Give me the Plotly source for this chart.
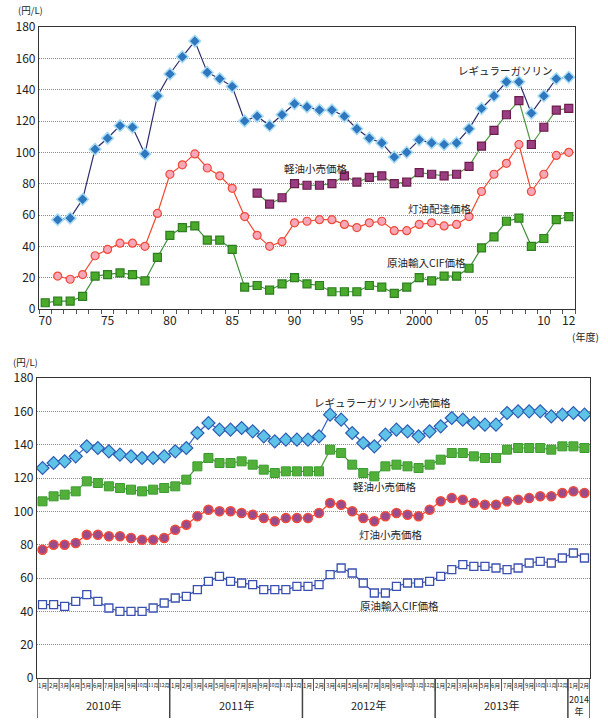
import plotly.graph_objects as go

# ---------------- data: annual (fiscal year) ----------------
years = list(range(1970, 2013))
gasoline_annual = [None, 57, 58, 70, 102, 109, 117, 116, 99, 136, 150, 161, 171, 151, 147, 142,
                   120, 123, 117, 124, 131, 129, 127, 127, 123, 115, 109, 106, 97, 100, 108,
                   106, 105, 106, 115, 128, 136, 145, 145, 125, 136, 147, 148]
diesel_annual = [None] * 17 + [74, 67, 71, 80, 79, 79, 80, 85, 81, 84, 85, 80, 81, 87,
                               86, 85, 86, 91, 104, 114, 124, 133, 105, 116, 127, 128]
kerosene_annual = [None, 21, 19, 22, 34, 38, 42, 42, 40, 61, 86, 92, 99, 90, 85, 77,
                   59, 47, 40, 43, 55, 56, 57, 57, 54, 52, 55, 56, 50, 50, 54,
                   55, 53, 54, 59, 75, 86, 93, 105, 75, 86, 98, 100]
crude_annual = [4, 5, 5, 8, 21, 22, 23, 22, 18, 33, 47, 52, 53, 44, 44, 38,
                14, 15, 12, 16, 20, 16, 15, 11, 11, 11, 15, 14, 10, 14, 20,
                18, 21, 21, 26, 39, 46, 56, 58, 40, 45, 57, 59]
annual_tickvals = [1970, 1975, 1980, 1985, 1990, 1995, 2000, 2005, 2010, 2012]
annual_ticktext = ["70", "75", "80", "85", "90", "95", "2000", "05", "10", "12"]

# ---------------- data: monthly (2010/1 - 2014/2) ----------------
month_labels = [f"{m}月" for m in range(1, 13)] * 4 + ["1月", "2月"]
month_idx = list(range(len(month_labels)))
gasoline_monthly = [126, 129, 130, 133, 139, 138, 136, 134, 133, 132, 132, 133,
                    136, 138, 147, 153, 149, 149, 150, 148, 145, 142, 143, 143,
                    143, 145, 158, 155, 147, 141, 139, 146, 149, 148, 145, 148,
                    151, 156, 155, 153, 152, 152, 159, 160, 160, 160, 157, 158,
                    159, 158]
diesel_monthly = [106, 109, 110, 112, 118, 117, 115, 114, 113, 112, 113, 114,
                  115, 119, 127, 132, 129, 129, 130, 128, 125, 123, 124, 124,
                  124, 124, 137, 135, 128, 123, 121, 127, 128, 127, 126, 128,
                  131, 135, 135, 133, 132, 132, 137, 138, 138, 138, 137, 139,
                  139, 138]
kerosene_monthly = [77, 80, 80, 81, 86, 86, 85, 85, 84, 83, 83, 84,
                    89, 92, 97, 101, 100, 100, 99, 98, 96, 94, 96, 96,
                    96, 99, 105, 104, 100, 96, 94, 97, 99, 98, 97, 101,
                    106, 108, 107, 105, 104, 104, 106, 107, 108, 109, 109, 111,
                    112, 111]
crude_monthly = [44, 44, 43, 46, 50, 46, 42, 40, 40, 40, 42, 45,
                 48, 49, 53, 58, 61, 58, 57, 56, 53, 53, 53, 55,
                 55, 56, 62, 66, 63, 57, 51, 51, 55, 57, 57, 58,
                 61, 65, 68, 67, 67, 66, 65, 66, 69, 70, 69, 72,
                 75, 72]
year_labels = ["2010年", "2011年", "2012年", "2013年", "2014<br>年"]
year_starts = [0, 12, 24, 36, 48]
year_ends = [11, 23, 35, 47, 49]

FONT = "Noto Sans CJK JP"
W, H = 608, 728

def px_x(p):
    return p / W

def px_y(p):
    return 1 - p / H

fig = go.Figure()

# ---- top chart traces ----
fig.add_trace(go.Scatter(x=years, y=gasoline_annual, mode="lines+markers", xaxis="x", yaxis="y",
                         line=dict(color="#2c2c6e", width=1.2),
                         marker=dict(symbol="diamond", size=9, color="#2f78c0",
                                     line=dict(color="#a8dcf2", width=1.5)),
                         showlegend=False))
fig.add_trace(go.Scatter(x=years, y=diesel_annual, mode="lines+markers", xaxis="x", yaxis="y",
                         line=dict(color="#4f9a3f", width=1.2),
                         marker=dict(symbol="square", size=8, color="#9b3d82",
                                     line=dict(color="#6b1d4a", width=1.2)),
                         showlegend=False))
fig.add_trace(go.Scatter(x=years, y=kerosene_annual, mode="lines+markers", xaxis="x", yaxis="y",
                         line=dict(color="#f04a30", width=1.2),
                         marker=dict(symbol="circle", size=8, color="#f7a8b8",
                                     line=dict(color="#f04a3a", width=1.2)),
                         showlegend=False))
fig.add_trace(go.Scatter(x=years, y=crude_annual, mode="lines+markers", xaxis="x", yaxis="y",
                         line=dict(color="#3f8f3a", width=1.2),
                         marker=dict(symbol="square", size=8, color="#4aaa2a",
                                     line=dict(color="#2e7d20", width=1.2)),
                         showlegend=False))

# ---- bottom chart traces ----
fig.add_trace(go.Scatter(x=month_idx, y=gasoline_monthly, mode="lines+markers", xaxis="x2", yaxis="y2",
                         line=dict(color="#3060c0", width=1.2),
                         marker=dict(symbol="diamond", size=10, color="#5ec3e6",
                                     line=dict(color="#2c5cb4", width=1.2)),
                         showlegend=False))
fig.add_trace(go.Scatter(x=month_idx, y=diesel_monthly, mode="lines+markers", xaxis="x2", yaxis="y2",
                         line=dict(color="#4a9a3a", width=1.2),
                         marker=dict(symbol="square", size=9, color="#52b03a",
                                     line=dict(color="#3b9b30", width=1)),
                         showlegend=False))
fig.add_trace(go.Scatter(x=month_idx, y=kerosene_monthly, mode="lines+markers", xaxis="x2", yaxis="y2",
                         line=dict(color="#f04a30", width=1.2),
                         marker=dict(symbol="circle", size=9, color="#9a4b8c",
                                     line=dict(color="#f04a3a", width=1.5)),
                         showlegend=False))
fig.add_trace(go.Scatter(x=month_idx, y=crude_monthly, mode="lines+markers", xaxis="x2", yaxis="y2",
                         line=dict(color="#3a50b0", width=1.2),
                         marker=dict(symbol="square", size=8, color="white",
                                     line=dict(color="#3a50b0", width=1.3)),
                         showlegend=False))

axis_common = dict(showline=True, linecolor="#333", linewidth=1.2, mirror=True, zeroline=False,
                   automargin=False)
yaxis_common = dict(range=[0, 180], dtick=20, tick0=0, showgrid=True, gridcolor="#8c8c8c",
                    griddash="1px,1px", gridwidth=1, ticks="",
                    tickfont=dict(size=12, color="#222", family=FONT), **axis_common)

shapes = []
annotations = []

# month separators, month labels and year separators for bottom chart
ax_bottom = px_y(678)
for i in range(len(month_labels) - 1):
    shapes.append(dict(type="line", xref="x2", yref="paper", x0=i + 0.5, x1=i + 0.5,
                       y0=ax_bottom, y1=px_y(691), line=dict(color="#555", width=1)))
for i, lab in zip(month_idx, month_labels):
    annotations.append(dict(text=lab, xref="x2", yref="paper", x=i, y=px_y(685),
                            xanchor="center", yanchor="middle", showarrow=False,
                            font=dict(size=6 if len(lab) == 2 else 5, family=FONT, color="#222")))
for e in [-1] + year_ends:
    shapes.append(dict(type="line", xref="x2", yref="paper", x0=e + 0.5, x1=e + 0.5,
                       y0=ax_bottom, y1=px_y(718), line=dict(color="#444", width=1.5)))
for lab, s, e in zip(year_labels, year_starts, year_ends):
    two_line = "<br>" in lab
    annotations.append(dict(text=lab, xref="x2", yref="paper", x=(s + e) / 2,
                            y=px_y(692) if two_line else px_y(705),
                            yanchor="top" if two_line else "middle", xanchor="center",
                            showarrow=False, borderpad=0,
                            font=dict(size=9 if two_line else 11, family=FONT, color="#222")))


def label(txt, cx, cy, size=10.5, xanchor="center"):
    annotations.append(dict(text=txt, xref="paper", yref="paper", x=px_x(cx), y=px_y(cy),
                            xanchor=xanchor, yanchor="middle", showarrow=False, borderpad=0,
                            font=dict(size=size, family=FONT, color="#222")))

label("レギュラーガソリン", 505, 70)
label("軽油小売価格", 316, 168)
label("灯油配達価格", 440, 208)
label("原油輸入CIF価格", 426, 262)
label("レギュラーガソリン小売価格", 382, 402)
label("軽油小売価格", 385, 487)
label("灯油小売価格", 391, 534)
label("原油輸入CIF価格", 399, 605)
label("(円/L)", 30, 10, size=9.5)
label("(円/L)", 25, 362, size=9.5)
label("(年度)", 600, 336, size=10, xanchor="right")

fig.update_layout(
    width=W, height=H,
    margin=dict(l=0, r=0, t=0, b=0),
    paper_bgcolor="white", plot_bgcolor="white",
    font=dict(family=FONT, color="#222"),
    xaxis=dict(domain=[px_x(39), px_x(575)], range=[1969.5, 2012.5],
               tickvals=annual_tickvals, ticktext=annual_ticktext, ticks="",
               tickfont=dict(size=12, color="#222", family=FONT), showgrid=False,
               minor=dict(ticks="outside", tick0=1969.5, dtick=1, ticklen=4, tickcolor="#555"),
               anchor="y", **axis_common),
    yaxis=dict(domain=[px_y(309), px_y(27)], anchor="x", **yaxis_common),
    xaxis2=dict(domain=[px_x(37), px_x(590)], range=[-0.5, len(month_labels) - 0.5],
                showticklabels=False, ticks="", showgrid=False,
                anchor="y2", **axis_common),
    yaxis2=dict(domain=[px_y(678), px_y(378)], anchor="x2", **yaxis_common),
    shapes=shapes,
    annotations=annotations,
)

fig.write_html("out.html", config={"displayModeBar": False},
               post_script="document.body.style.margin='0';")
